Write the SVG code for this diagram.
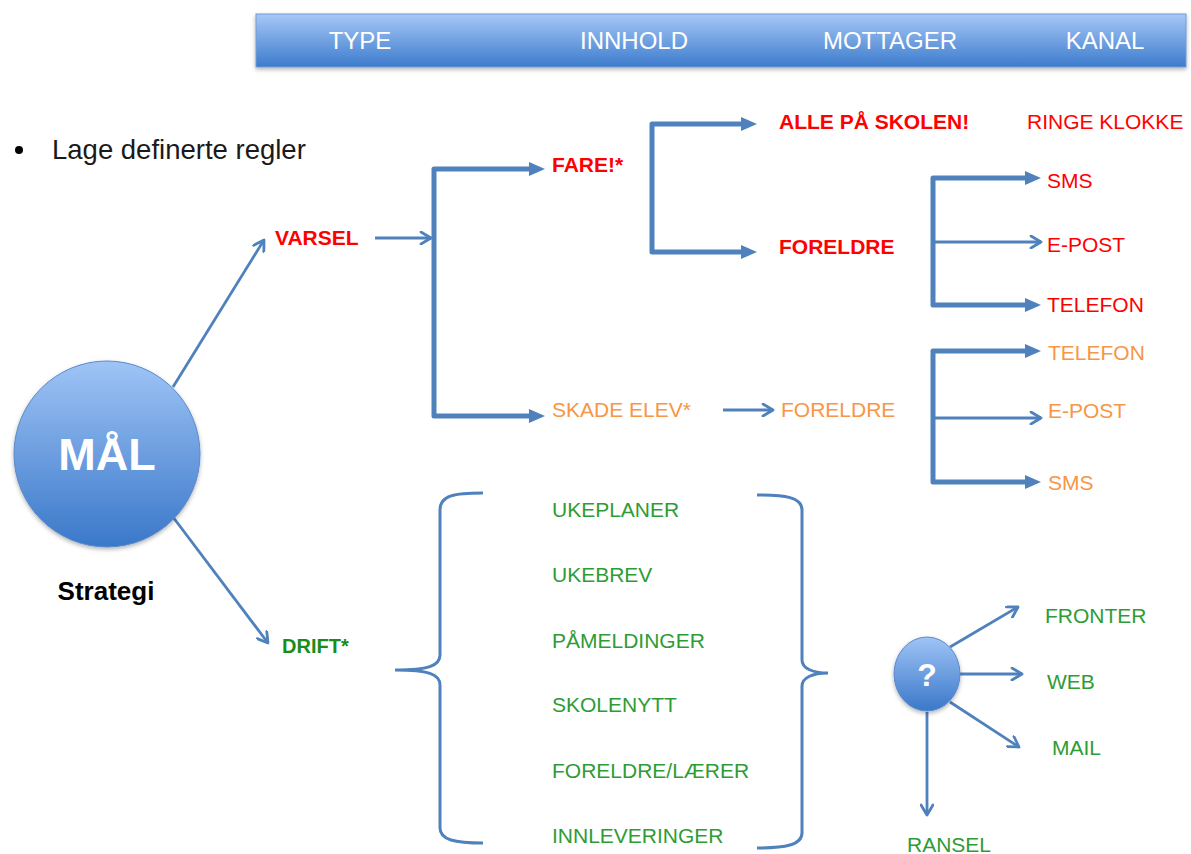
<svg xmlns="http://www.w3.org/2000/svg" width="1191" height="854" viewBox="0 0 1191 854">
<defs>
<linearGradient id="barG" x1="0" y1="0" x2="0" y2="1">
<stop offset="0" stop-color="#a6c8f7"/>
<stop offset="1" stop-color="#3d7bcc"/>
</linearGradient>
<linearGradient id="ballG" x1="0" y1="0" x2="0" y2="1">
<stop offset="0" stop-color="#9fc4f6"/>
<stop offset="1" stop-color="#3a78c9"/>
</linearGradient>
<filter id="sh" x="-10%" y="-10%" width="120%" height="130%">
<feDropShadow dx="0" dy="2" stdDeviation="2" flood-color="#000" flood-opacity="0.3"/>
</filter>
<marker id="open" viewBox="0 0 14 14" refX="12" refY="7" markerWidth="14" markerHeight="14" markerUnits="userSpaceOnUse" orient="auto">
<path d="M2,1 L12,7 L2,13" fill="none" stroke="#4f81bd" stroke-width="2.8" stroke-linecap="round" stroke-linejoin="round"/>
</marker>
<marker id="tri" viewBox="0 0 16 16" refX="4" refY="8" markerWidth="16" markerHeight="16" markerUnits="userSpaceOnUse" orient="auto-start-reverse">
<path d="M0,1 L16,8 L0,15 Z" fill="#4f81bd"/>
</marker>
<style>
text{font-family:"Liberation Sans",Arial,sans-serif;}
.hdr{fill:#fff;font-size:24px;text-anchor:middle;}
.thin{fill:none;stroke:#4f81bd;stroke-width:2.8;marker-end:url(#open);}
.thick{fill:none;stroke:#4f81bd;stroke-width:5;stroke-linejoin:round;marker-start:url(#tri);marker-end:url(#tri);}
.brace{fill:none;stroke:#4f81bd;stroke-width:3;}
.red{fill:#ff0000;font-size:21px;}
.redb{fill:#ff0000;font-size:21px;font-weight:bold;}
.org{fill:#f79646;font-size:21px;}
.grn{fill:#2e9c35;font-size:21px;}
</style>
</defs>
<rect width="1191" height="854" fill="#fff"/>

<g id="header">
<rect x="256" y="14" width="930" height="53" fill="url(#barG)" stroke="#6f9bd6" stroke-width="1" filter="url(#sh)"/>
<text class="hdr" x="360" y="49">TYPE</text>
<text class="hdr" x="634" y="49">INNHOLD</text>
<text class="hdr" x="890" y="49">MOTTAGER</text>
<text class="hdr" x="1105" y="49">KANAL</text>
</g>

<g id="bullet">
<circle cx="19" cy="150" r="4" fill="#000"/>
<text x="52" y="159" font-size="27.5" fill="#1a1a1a">Lage definerte regler</text>
</g>

<g id="connectors">
<line class="thin" x1="173" y1="387" x2="264" y2="240"/>
<line class="thin" x1="173" y1="517" x2="268" y2="643"/>
<line class="thin" x1="375" y1="238" x2="431" y2="238"/>
<path class="thick" d="M533,169 H434 V416 H533"/>
<path class="thin" d="M723,410 H773"/>
<path class="thick" d="M745,124 H652 V252 H745"/>
<path class="thick" d="M1029,178 H933 V305 H1029"/>
<path class="thin" d="M933,242 H1041"/>
<path class="thick" d="M1029,351 H933 V482 H1029"/>
<path class="thin" d="M933,418 H1041"/>
<path class="brace" d="M483,493 C455,493 440,495 440,510 V655 C440,666 428,670 395,670 C428,670 440,674 440,685 V828 C440,840 455,843 483,843"/>
<path class="brace" d="M757,495 C785,495 802,497 802,510 V660 C802,668 812,673 828,673 C812,673 802,678 802,686 V833 C802,845 785,848 757,848"/>
<line class="thin" x1="950" y1="647" x2="1018" y2="607"/>
<line class="thin" x1="960" y1="674" x2="1022" y2="674"/>
<line class="thin" x1="950" y1="702" x2="1019" y2="747"/>
<line class="thin" x1="927" y1="712" x2="927" y2="815"/>
</g>

<g id="mal">
<circle cx="107" cy="454" r="93" fill="url(#ballG)" stroke="#5a8ac8" stroke-width="1" filter="url(#sh)"/>
<text x="107" y="470" font-size="45" font-weight="bold" fill="#fff" text-anchor="middle">MÅL</text>
</g>
<g id="strategi"><text x="106" y="600" font-size="26" font-weight="bold" fill="#000" text-anchor="middle">Strategi</text></g>

<g id="varsel"><text class="redb" x="275" y="245">VARSEL</text></g>
<g id="drift"><text x="282" y="653" font-size="20" font-weight="bold" fill="#1a8c1a">DRIFT*</text></g>
<g id="fare"><text class="redb" x="552" y="172">FARE!*</text></g>
<g id="skade"><text class="org" x="552" y="417">SKADE ELEV*</text></g>
<g id="foreldre2"><text class="org" x="781" y="417">FORELDRE</text></g>
<g id="alle"><text class="redb" x="779" y="129">ALLE PÅ SKOLEN!</text></g>
<g id="ringe"><text class="red" x="1027" y="129">RINGE KLOKKE</text></g>
<g id="foreldre1"><text class="redb" x="779" y="254">FORELDRE</text></g>
<g id="sms1"><text class="red" x="1047" y="188">SMS</text></g>
<g id="epost1"><text class="red" x="1047" y="252">E-POST</text></g>
<g id="telefon1"><text class="red" x="1047" y="312">TELEFON</text></g>
<g id="telefon2"><text class="org" x="1048" y="360">TELEFON</text></g>
<g id="epost2"><text class="org" x="1048" y="418">E-POST</text></g>
<g id="sms2"><text class="org" x="1048" y="490">SMS</text></g>

<g id="ukeplaner"><text class="grn" x="552" y="517">UKEPLANER</text></g>
<g id="ukebrev"><text class="grn" x="552" y="582">UKEBREV</text></g>
<g id="pameldinger"><text class="grn" x="552" y="648">PÅMELDINGER</text></g>
<g id="skolenytt"><text class="grn" x="552" y="712">SKOLENYTT</text></g>
<g id="foreldrelaerer"><text class="grn" x="552" y="778">FORELDRE/LÆRER</text></g>
<g id="innleveringer"><text class="grn" x="552" y="843">INNLEVERINGER</text></g>

<g id="question">
<ellipse cx="927" cy="674" rx="33" ry="37" fill="url(#ballG)" stroke="#5a8ac8" stroke-width="1" filter="url(#sh)"/>
<text x="927" y="686" font-size="32" font-weight="bold" fill="#fff" text-anchor="middle">?</text>
</g>
<g id="fronter"><text class="grn" x="1045" y="623">FRONTER</text></g>
<g id="web"><text class="grn" x="1047" y="689">WEB</text></g>
<g id="mail"><text class="grn" x="1052" y="755">MAIL</text></g>
<g id="ransel"><text class="grn" x="907" y="852">RANSEL</text></g>
</svg>
